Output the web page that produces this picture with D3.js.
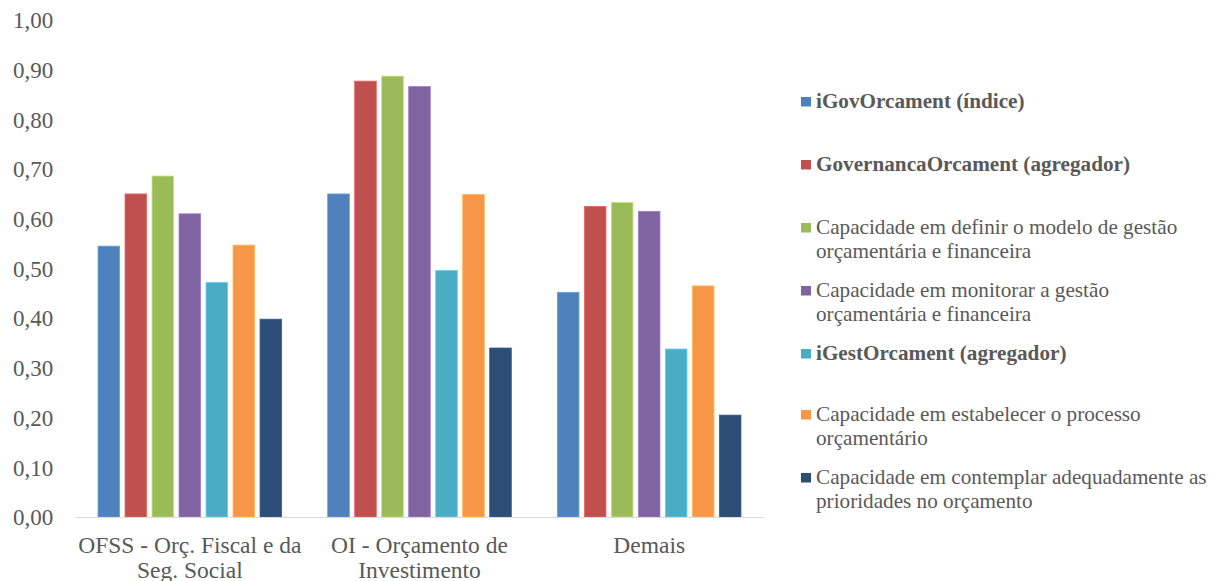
<!DOCTYPE html>
<html><head><meta charset="utf-8">
<script src="https://cdn.jsdelivr.net/npm/d3@7"></script>
</head>
<body style="margin:0;padding:0;background:#fff">
<svg id="c" width="1221" height="581" font-family="Liberation Serif"></svg>
<script>
const categories = [["OFSS - Orç. Fiscal e da","Seg. Social"],["OI - Orçamento de","Investimento"],["Demais"]];
const seriesNames = [
  ["iGovOrcament (índice)"],
  ["GovernancaOrcament (agregador)"],
  ["Capacidade em definir o modelo de gestão","orçamentária e financeira"],
  ["Capacidade em monitorar a gestão","orçamentária e financeira"],
  ["iGestOrcament (agregador)"],
  ["Capacidade em estabelecer o processo","orçamentário"],
  ["Capacidade em contemplar adequadamente as","prioridades no orçamento"]
];
const boldSeries = [true, true, false, false, true, false, false];
const colors = ["#4F81BD","#C0504D","#9BBB59","#8064A2","#4BACC6","#F79646","#2C4D75"];
const values = [
  [0.545, 0.650, 0.452],
  [0.650, 0.877, 0.625],
  [0.686, 0.887, 0.633],
  [0.610, 0.866, 0.615],
  [0.472, 0.496, 0.338],
  [0.547, 0.649, 0.465],
  [0.398, 0.340, 0.205]
];
const yTicks = [0,0.1,0.2,0.3,0.4,0.5,0.6,0.7,0.8,0.9,1.0];

const FONT = "Liberation Serif";
const TXT = "#595959";
const svg = d3.select("#c");
const y = d3.scaleLinear().domain([0,1]).range([517,20]);
const catIdx = categories.map((c,i)=>i);
const x0 = d3.scaleBand().domain(catIdx).range([75,764]).padding(0);
const inner = 189;
const off = (x0.bandwidth()-inner)/2;
const x1 = d3.scaleBand().domain(d3.range(seriesNames.length)).range([off, off+inner]).paddingInner(0.2).paddingOuter(0.1);

// y tick labels
svg.append("g").selectAll("text").data(yTicks).join("text")
  .attr("x",13).attr("y",d=>y(d)).attr("dy","0.36em")
  .attr("font-family",FONT).attr("font-size",23).attr("fill",TXT)
  .text(d=>d3.format(".2f")(d).replace(".",","));

// bars
const g = svg.append("g");
catIdx.forEach(ci=>{
  seriesNames.forEach((s,si)=>{
    const v = values[si][ci];
    g.append("rect")
      .attr("x", x0(ci)+x1(si))
      .attr("y", y(v))
      .attr("width", x1.bandwidth())
      .attr("height", y(0)-y(v))
      .attr("fill", colors[si])
      .attr("stroke", d3.color(colors[si]).brighter(0.6))
      .attr("stroke-width", 0.8);
  });
});

// baseline
svg.append("line").attr("x1",75).attr("x2",764).attr("y1",y(0)+0.5).attr("y2",y(0)+0.5)
  .attr("stroke","#D9D9D9").attr("stroke-width",1.2);

// category labels
catIdx.forEach(ci=>{
  const cx = x0(ci)+x0.bandwidth()/2;
  const t = svg.append("text").attr("text-anchor","middle")
    .attr("font-family",FONT).attr("font-size",23.5).attr("fill",TXT)
    .attr("x", cx).attr("y",553);
  categories[ci].forEach((ln,li)=>{
    t.append("tspan").attr("x", cx).attr("dy", li===0?0:24.5).text(ln);
  });
});

// legend
const legY = [108,171,234,297,360,421,484];
seriesNames.forEach((lines,si)=>{
  svg.append("rect").attr("x",801).attr("y",legY[si]-11).attr("width",10).attr("height",9.5).attr("fill",colors[si]);
  const t = svg.append("text").attr("x",816).attr("y",legY[si])
    .attr("font-family",FONT).attr("font-size",21.2).attr("fill",TXT)
    .attr("font-weight", boldSeries[si]?"bold":"normal");
  lines.forEach((ln,li)=>{
    t.append("tspan").attr("x",816).attr("dy", li===0?0:23.5).text(ln);
  });
});
</script></body></html>
